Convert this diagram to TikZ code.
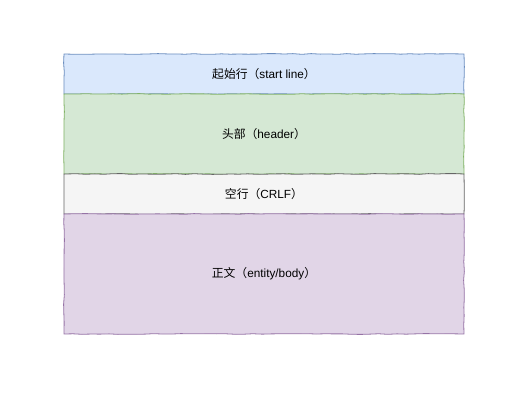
\documentclass[tikz,border=0pt]{standalone}
\usepackage{fontspec}
\setmainfont{Liberation Sans}
\newfontfamily\cjk{Noto Sans CJK SC}
\usetikzlibrary{decorations.pathmorphing}

\definecolor{startfill}{HTML}{DAE8FC}
\definecolor{startdraw}{HTML}{6C8EBF}
\definecolor{headfill}{HTML}{D5E8D4}
\definecolor{headdraw}{HTML}{82B366}
\definecolor{crlffill}{HTML}{F5F5F5}
\definecolor{crlfdraw}{HTML}{666666}
\definecolor{bodyfill}{HTML}{E1D5E7}
\definecolor{bodydraw}{HTML}{9673A6}

\begin{document}
\begin{tikzpicture}[x=1pt,y=-1pt,
  part/.style={draw,minimum width=400pt,inner sep=0pt,line width=0.8pt,
    font=\fontsize{11.8}{14}\selectfont,
    decorate,decoration={random steps,segment length=9pt,amplitude=0.4pt}}]
\pgfmathsetseed{11}
\useasboundingbox (0,0) rectangle (531,401);

% start line
\node[part,fill=startfill,draw=startdraw,minimum height=40pt] (start) at (264,74)
  {{\cjk 起始行（}start line{\cjk ）}};

% header
\node[part,fill=headfill,draw=headdraw,minimum height=80pt] (header) at (264,134)
  {{\cjk 头部（}header{\cjk ）}};

% empty line
\node[part,fill=crlffill,draw=crlfdraw,minimum height=40pt] (crlf) at (264,194)
  {{\cjk 空行（}CRLF{\cjk ）}};

% body
\node[part,fill=bodyfill,draw=bodydraw,minimum height=120pt] (body) at (264,274)
  {{\cjk 正文（}entity/body{\cjk ）}};
\end{tikzpicture}
\end{document}
